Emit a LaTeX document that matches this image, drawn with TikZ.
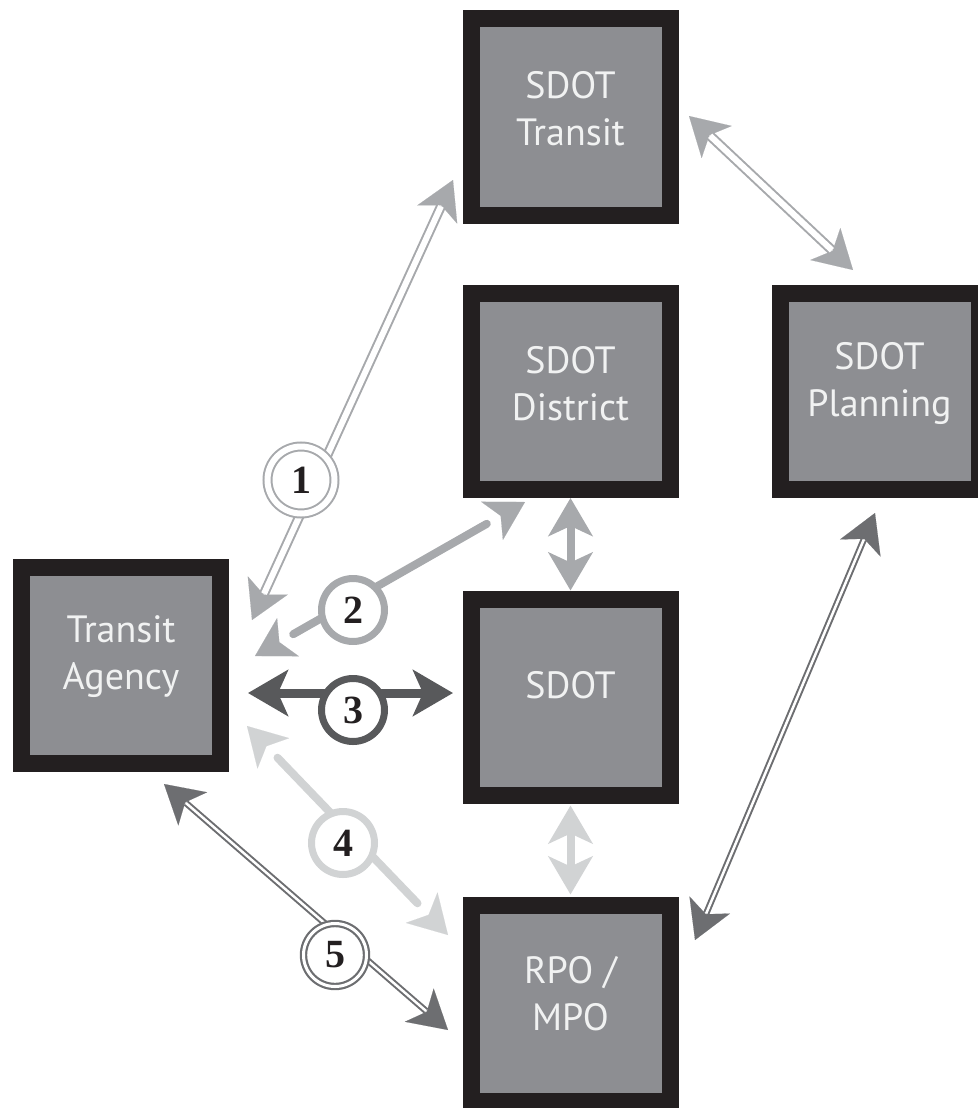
\documentclass[tikz,border=0pt]{standalone}
\usepackage{fontspec}
\setmainfont{PT Sans}
\newfontfamily\numfont{Liberation Serif}
\usetikzlibrary{arrows.meta}
\definecolor{bcol}{HTML}{231F20}
\definecolor{fcol}{HTML}{8D8E92}
\definecolor{tcol}{HTML}{F1F2F2}
\definecolor{lg}{HTML}{A7A9AC}
\definecolor{xlg}{HTML}{D1D3D4}
\definecolor{dg}{HTML}{58595B}
\definecolor{mg}{HTML}{6D6E71}
\tikzset{
  hlg/.tip={Stealth[length=38pt,width=44pt,inset=10pt,color=lg]},
  hxlg/.tip={Stealth[length=38pt,width=44pt,inset=10pt,color=xlg]},
  hdg/.tip={Stealth[length=40pt,width=46pt,inset=10pt,color=dg]},
  hmg/.tip={Stealth[length=38pt,width=44pt,inset=10pt,color=mg]},
}
\begin{document}
\begin{tikzpicture}[x=1pt,y=-1pt,
  box/.style={rectangle, draw=bcol, line width=17pt, fill=fcol, minimum width=199pt, minimum height=196pt, inner sep=0pt, outer sep=8.5pt},
  btext/.style={text=tcol, font=\fontsize{38}{47}\selectfont, align=center, inner sep=0pt},
  numtext/.style={font=\numfont\bfseries\fontsize{40}{40}\selectfont, text=bcol},
  ring/.style={circle, fill=white, minimum size=63pt, inner sep=0pt, line width=7pt, numtext},
  dring/.style={circle, fill=white, inner sep=0pt, double=white, numtext},
  tipline/.style={draw=white, line width=0.1pt},
  dshaft/.style={line width=2pt, double=white, shorten <=29pt, shorten >=29pt},
  sshaft/.style={line width=8pt, line cap=round, shorten <=44pt, shorten >=44pt},
]
\useasboundingbox (0,0) rectangle (977,1108);

% boxes
\node[box] (ta) at (121,665) {};
\node[box] (st) at (570.5,117) {};
\node[box] (sd) at (570.5,391.5) {};
\node[box] (sp) at (879.5,391.5) {};
\node[box] (s)  at (570.5,697) {};
\node[box] (r)  at (570.5,1003) {};

\node[btext] (tat) at ([yshift=8pt]ta.center) {Transit\\Agency};
\node[btext] (stt) at ([yshift=8pt]st.center) {SDOT\\Transit};
\node[btext] (sdt) at ([yshift=8pt]sd.center) {SDOT\\District};
\node[btext] (spt) at ([yshift=8pt]sp.center) {SDOT\\Planning};
\node[btext] (sx)  at ([yshift=12pt]s.center) {SDOT};
\node[btext] (rt)  at ([yshift=9pt]r.center) {RPO /\\MPO};

% arrow end points
\coordinate (a1u) at (453,180);
\coordinate (a1l) at (252,620);
\coordinate (a2u) at (525,502);
\coordinate (a2l) at (255,656);
\coordinate (a3l) at (248,693);
\coordinate (a3r) at (453,693);
\coordinate (a4u) at (247,726);
\coordinate (a4l) at (448,935);
\coordinate (a5u) at (164,784);
\coordinate (a5l) at (448,1030);
\coordinate (a6u) at (689,116);
\coordinate (a6l) at (853,270);
\coordinate (a9u) at (875,513);
\coordinate (a9l) at (695,940);

% 1
\draw[tipline, hlg-hlg] (a1u) -- (a1l);
\draw[lg, dshaft, double distance=6pt] (a1u) -- (a1l);
% 2
\draw[tipline, hlg-hlg] (a2u) -- (a2l);
\draw[lg, sshaft] (a2u) -- (a2l);
% 3
\draw[dg, line width=9pt, hdg-hdg] (a3l) -- (a3r);
% 4
\draw[tipline, hxlg-hxlg] (a4u) -- (a4l);
\draw[xlg, sshaft] (a4u) -- (a4l);
% 5
\draw[tipline, hmg-hmg] (a5u) -- (a5l);
\draw[mg, dshaft, double distance=2.5pt] (a5u) -- (a5l);
% 6
\draw[tipline, hlg-hlg] (a6u) -- (a6l);
\draw[lg, dshaft, double distance=6pt] (a6u) -- (a6l);
% 7
\draw[lg, line width=8pt, hlg-hlg] (sd.south) -- (s.north);
% 8
\draw[xlg, line width=8pt, hxlg-hxlg, shorten <=2pt, shorten >=2pt] (s.south) -- (r.north);
% 9
\draw[tipline, hmg-hmg] (a9u) -- (a9l);
\draw[mg, dshaft, double distance=2.5pt] (a9u) -- (a9l);

% circles
\node[dring, draw=lg, line width=2pt, double distance=6pt, minimum size=67pt] (c1) at (301,480) {1};
\node[ring, draw=lg] (c2) at (353,610) {2};
\node[ring, draw=dg] (c3) at (353,710) {3};
\node[ring, draw=xlg] (c4) at (343,843) {4};
\node[dring, draw=mg, line width=2.2pt, double distance=3pt, minimum size=63pt] (c5) at (335,955) {5};
\end{tikzpicture}
\end{document}
